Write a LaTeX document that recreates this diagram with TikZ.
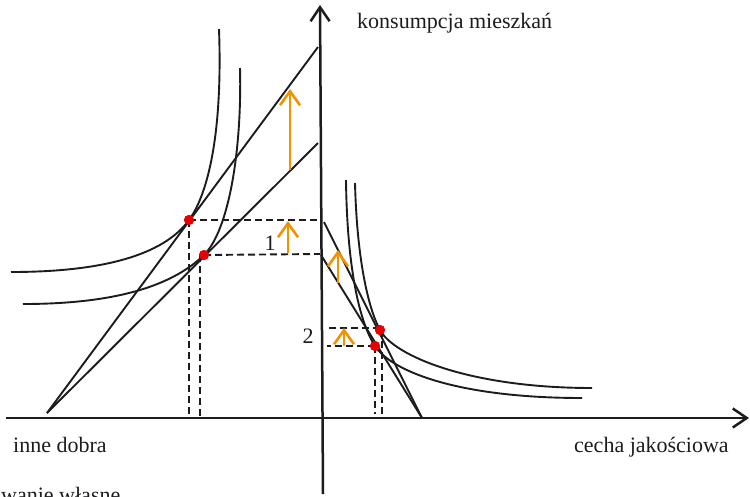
\documentclass[tikz,border=0pt]{standalone}
\usepackage{fontspec}
\setmainfont{Liberation Serif}
\usetikzlibrary{arrows.meta}
\definecolor{ink}{RGB}{28,28,30}
\definecolor{orng}{RGB}{243,146,0}
\definecolor{dotred}{RGB}{230,0,0}
\tikzset{
  axisline/.style={draw=ink, line width=2.5pt, -{Straight Barb[length=14pt,width=19pt,line width=2.5pt]}},
  thinline/.style={draw=ink, line width=1.9pt},
  dashline/.style={draw=ink, line width=1.9pt, dash pattern=on 7pt off 4pt},
  oarrow/.style={draw=orng, line width=2.6pt, -{Straight Barb[length=14pt,width=20pt,line width=2.6pt]}},
  reddot/.style={circle, fill=dotred, inner sep=0pt, minimum size=10pt},
  lbl/.style={inner sep=0pt, font=\fontsize{22}{26}\selectfont, text=ink},
}
\begin{document}
\begin{tikzpicture}[x=1pt, y=-1pt]
\useasboundingbox (0,0) rectangle (750,496);
% axes
\coordinate (vb) at (323,494);
\coordinate (vt) at (320,5);
\coordinate (hl) at (6,418);
\coordinate (hr) at (749,418);
\draw[axisline] (vb) -- (vt);
\draw[axisline] (hl) -- (hr);
% left budget lines
\coordinate (lo) at (47,413);
\coordinate (la) at (318,47);
\coordinate (lb) at (318,143);
\draw[thinline] (lo) -- (la);
\draw[thinline] (lo) -- (lb);
% red dots
\node[reddot] (d1) at (189,220) {};
\node[reddot] (d2) at (204,255) {};
\node[reddot] (d3) at (380,330) {};
\node[reddot] (d4) at (375,346) {};
% left indifference curves
\draw[thinline] (11,272) .. controls (100,272) and (163,256) .. (d1.center)
  .. controls (206,197) and (223,140) .. (219,29);
\draw[thinline] (23,304) .. controls (110,304) and (170,288) .. (d2.center)
  .. controls (229,230) and (242,150) .. (240,68);
% right budget lines
\coordinate (rc) at (324,222);
\coordinate (rd) at (321,255);
\coordinate (ro) at (422,418);
\draw[thinline] (rc) -- (ro);
\draw[thinline] (rd) -- (ro);
% right indifference curves
\draw[thinline] (346,180) .. controls (347,262) and (358,320) .. (d4.center)
  .. controls (392,372) and (460,398) .. (582,398);
\draw[thinline] (355,183) .. controls (357,262) and (369,310) .. (d3.center)
  .. controls (394,356) and (470,388) .. (592,388);
% dashed guides
\coordinate (e1) at (320,220);
\coordinate (e2) at (320,254);
\coordinate (f1) at (189,418);
\coordinate (f2) at (200,418);
\draw[dashline] (d1.center) -- (e1);
\draw[dashline] (d2.center) -- (e2);
\draw[dashline] (d1.center) -- (f1);
\draw[dashline] (200,255) -- (f2);
\coordinate (e3) at (327,328);
\coordinate (e4) at (327,346);
\coordinate (f3) at (382,414);
\coordinate (f4) at (375,414);
\draw[dashline] (d3.center |- e3) -- (e3);
\draw[dashline] (d4.center) -- (e4);
\draw[dashline] (382,330) -- (f3);
\draw[dashline] (d4.center) -- (f4);
% redraw dots on top
\node[reddot] at (d1) {};
\node[reddot] at (d2) {};
\node[reddot] at (d3) {};
\node[reddot] at (d4) {};
% orange arrows
\coordinate (a1s) at (290,170); \coordinate (a1t) at (290,89);
\coordinate (a2s) at (288,253); \coordinate (a2t) at (288,221);
\coordinate (a3s) at (338,283); \coordinate (a3t) at (338,250);
\coordinate (a4s) at (344,346); \coordinate (a4t) at (344,328);
\draw[oarrow] (a1s) -- (a1t);
\draw[oarrow] (a2s) -- (a2t);
\draw[oarrow] (a3s) -- (a3t);
\draw[oarrow] (a4s) -- (a4t);
% labels
\node[lbl, anchor=base west] (tk) at (357,28) {konsumpcja mieszkań};
\node[lbl, anchor=base west] (ti) at (13,452) {inne dobra};
\node[lbl, anchor=base west] (tc) at (574,452) {cecha jakościowa};
\node[lbl, anchor=base] (t1) at (270,250) {1};
\node[lbl, anchor=base] (t2) at (308,343) {2};
\node[lbl, anchor=base west] (tw) at (1,502) {wanie własne};
\end{tikzpicture}
\end{document}
